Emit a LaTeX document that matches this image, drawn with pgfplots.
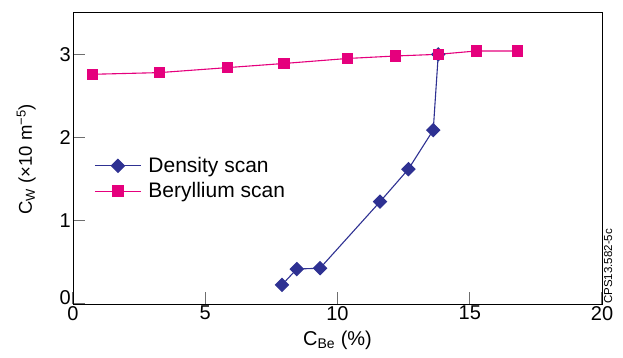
\documentclass[border=0pt]{standalone}
\usepackage{pgfplots}
\pgfplotsset{compat=1.18}
\usepackage{fontspec}
\setmainfont{Liberation Sans}
\definecolor{pinkc}{RGB}{229,0,125}
\definecolor{navyc}{RGB}{46,49,146}
\definecolor{tickc}{RGB}{110,110,110}
\begin{document}
\begin{tikzpicture}
\begin{axis}[
  name=ax,
  scale only axis,
  width=529pt, height=291.3pt,
  xmin=0, xmax=20, ymin=0, ymax=3.5,
  xtick={0,5,10,15,20}, ytick={0,1,2,3},
  yticklabels={\raisebox{-0.5pt}[0pt][0pt]{0},1,2,3},
  tick align=inside, tick pos=left,
  major tick length=12pt,
  tick style={tickc, line width=1.2pt},
  axis line style={black, line width=0.8pt},
  font=\fontsize{20}{22}\selectfont,
  /pgf/number format/assume math mode=true,
  xticklabel style={inner sep=2pt},
  yticklabel style={inner sep=2pt},
  xlabel={C\textsubscript{Be} (\%)},
  ylabel={C\textsubscript{W} (×10 m\textsuperscript{−5})},
  xlabel style={inner sep=0pt, yshift=-8pt},
  ylabel style={at={(rel axis cs:0,0.497)}, anchor=south, inner sep=0pt, yshift=37pt, font=\fontsize{18.5}{20}\selectfont},
  legend style={draw=none, fill=none, at={(rel axis cs:0.04,0.431)}, anchor=west, inner sep=0pt,
    font=\fontsize{21}{22}\selectfont, row sep=4.5pt, nodes={inner sep=2pt},
    /tikz/every odd column/.append style={column sep=5pt}},
  legend cell align=left,
  legend image code/.code={\draw[mark repeat=2,mark phase=2,#1] plot coordinates {(0pt,0pt) (23pt,0pt) (46pt,0pt)};},
]
\addplot[navyc, line width=1.1pt, mark=square*, mark size=4.6pt, mark options={rotate=45, solid}] coordinates {
  (7.9,0.23) (8.46,0.42) (9.34,0.43) (11.61,1.23) (12.68,1.62) (13.62,2.09) (13.81,3.0)
};
\addlegendentry{Density scan}
\addplot[pinkc, line width=1.1pt, mark=square*, mark size=5.1pt] coordinates {
  (0.74,2.76) (3.26,2.78) (5.83,2.84) (7.98,2.89) (10.38,2.95) (12.2,2.98) (13.81,3.0) (15.25,3.04) (16.8,3.04)
};
\addlegendentry{Beryllium scan}
\coordinate (BL) at (rel axis cs:0,0);
\coordinate (TR) at (rel axis cs:1,1);
\end{axis}
\node[rotate=90, anchor=north west, inner sep=0pt, font=\fontsize{11.5}{12}\selectfont] at ([xshift=2pt]ax.south east) {CPS13.582-5c};
\pgfresetboundingbox
\path ([shift={(-73pt,-54pt)}]BL) rectangle ([shift={(21pt,12.7pt)}]TR);
\end{tikzpicture}
\end{document}
